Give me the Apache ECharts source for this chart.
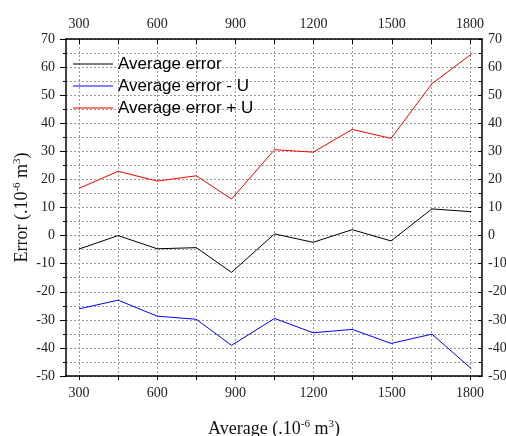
<!DOCTYPE html>
<html>
<head>
<meta charset="utf-8">
<script src="https://cdn.jsdelivr.net/npm/echarts@6/dist/echarts.min.js"></script>
<style>
  html, body { margin: 0; background: #fff; }
  #chart { width: 506px; height: 436px; }
</style>
</head>
<body>
<div id="chart"></div>
<script>
const volumes = [300, 450, 600, 750, 885, 1050, 1198, 1348, 1497, 1654, 1805];
const avgError = [-4.8, 0, -4.7, -4.3, -13.1, 0.6, -2.4, 2.1, -1.9, 9.5, 8.5];
const avgMinusU = [-26.1, -23, -28.7, -29.8, -39.1, -29.5, -34.6, -33.4, -38.4, -35.1, -47.4];
const avgPlusU = [16.8, 22.9, 19.4, 21.3, 13.0, 30.6, 29.7, 37.8, 34.6, 54.1, 64.6];
const xLabelValues = [300, 600, 900, 1200, 1500, 1800];
const xTickValues = [300, 450, 600, 750, 900, 1050, 1200, 1350, 1500, 1650, 1800];

const serifFont = 'Liberation Serif';
const gridLine = { show: true, lineStyle: { color: '#999', type: [2, 2], width: 1 } };
const axisLine = { show: true, onZero: false, lineStyle: { color: '#000', width: 1.5 } };
const plain = (v) => String(v);

const chart = echarts.init(document.getElementById('chart'));

const pairs = (ys) => volumes.map((v, i) => [v, ys[i]]);

const option = {
  animation: false,
  grid: { left: 66, right: 24, top: 39, bottom: 60, outerBoundsMode: 'none', containLabel: false },
  legend: {
    orient: 'vertical',
    left: 68,
    top: 49,
    icon: 'rect',
    itemWidth: 40,
    itemHeight: 1.2,
    itemGap: 2,
    textStyle: { fontFamily: 'Liberation Sans', fontSize: 17, color: '#000', lineHeight: 20 },
    data: ['Average error', 'Average error - U', 'Average error + U']
  },
  xAxis: [
    {
      type: 'value',
      position: 'bottom',
      min: 250,
      max: 1846,
      axisLine: axisLine,
      axisTick: { show: true, inside: false, length: 4, customValues: xTickValues, lineStyle: { color: '#000' } },
      axisLabel: { customValues: xLabelValues, formatter: plain, margin: 10, fontFamily: serifFont, fontSize: 14, color: '#222' },
      splitLine: gridLine,
      name: 'Average (.10{sup|-6} m{sup|3})',
      nameLocation: 'middle',
      nameGap: 43,
      nameMoveOverlap: false,
      nameTextStyle: {
        fontFamily: serifFont, fontSize: 18, color: '#111', lineHeight: 20,
        rich: { sup: { fontFamily: serifFont, fontSize: 11, verticalAlign: 'top', lineHeight: 12, color: '#111' } }
      }
    },
    {
      type: 'value',
      position: 'top',
      min: 250,
      max: 1846,
      axisLine: axisLine,
      axisTick: { show: true, inside: true, length: 5, customValues: xTickValues, lineStyle: { color: '#000' } },
      axisLabel: { customValues: xLabelValues, formatter: plain, margin: 8, fontFamily: serifFont, fontSize: 14, color: '#222' },
      splitLine: { show: false }
    }
  ],
  yAxis: [
    {
      type: 'value',
      position: 'left',
      min: -50,
      max: 70,
      interval: 10,
      axisLine: axisLine,
      axisTick: { show: true, inside: false, length: 6, lineStyle: { color: '#000' } },
      minorTick: { show: true, splitNumber: 2, length: 3, lineStyle: { color: '#000' } },
      axisLabel: { margin: 11, fontFamily: serifFont, fontSize: 14, color: '#222' },
      splitLine: gridLine,
      minorSplitLine: gridLine,
      name: 'Error (.10{sup|-6} m{sup|3})',
      nameLocation: 'middle',
      nameGap: 34,
      nameMoveOverlap: false,
      nameTextStyle: {
        fontFamily: serifFont, fontSize: 18, color: '#111', lineHeight: 20,
        rich: { sup: { fontFamily: serifFont, fontSize: 11, verticalAlign: 'top', lineHeight: 12, color: '#111' } }
      }
    },
    {
      type: 'value',
      position: 'right',
      min: -50,
      max: 70,
      interval: 10,
      axisLine: axisLine,
      axisTick: { show: true, inside: true, length: 4, lineStyle: { color: '#000' } },
      minorTick: { show: true, splitNumber: 2, length: 3, lineStyle: { color: '#000' } },
      axisLabel: { margin: 6, fontFamily: serifFont, fontSize: 14, color: '#222' },
      splitLine: { show: false }
    }
  ],
  series: [
    {
      name: 'Average error',
      type: 'line',
      symbol: 'none',
      data: pairs(avgError),
      lineStyle: { color: '#000', width: 1 },
      itemStyle: { color: '#000' }
    },
    {
      name: 'Average error - U',
      type: 'line',
      symbol: 'none',
      data: pairs(avgMinusU),
      lineStyle: { color: '#0000ff', width: 1 },
      itemStyle: { color: '#0000ff' }
    },
    {
      name: 'Average error + U',
      type: 'line',
      symbol: 'none',
      data: pairs(avgPlusU),
      lineStyle: { color: '#ff0000', width: 1 },
      itemStyle: { color: '#ff0000' }
    }
  ]
};

chart.setOption(option);
</script>
</body>
</html>
